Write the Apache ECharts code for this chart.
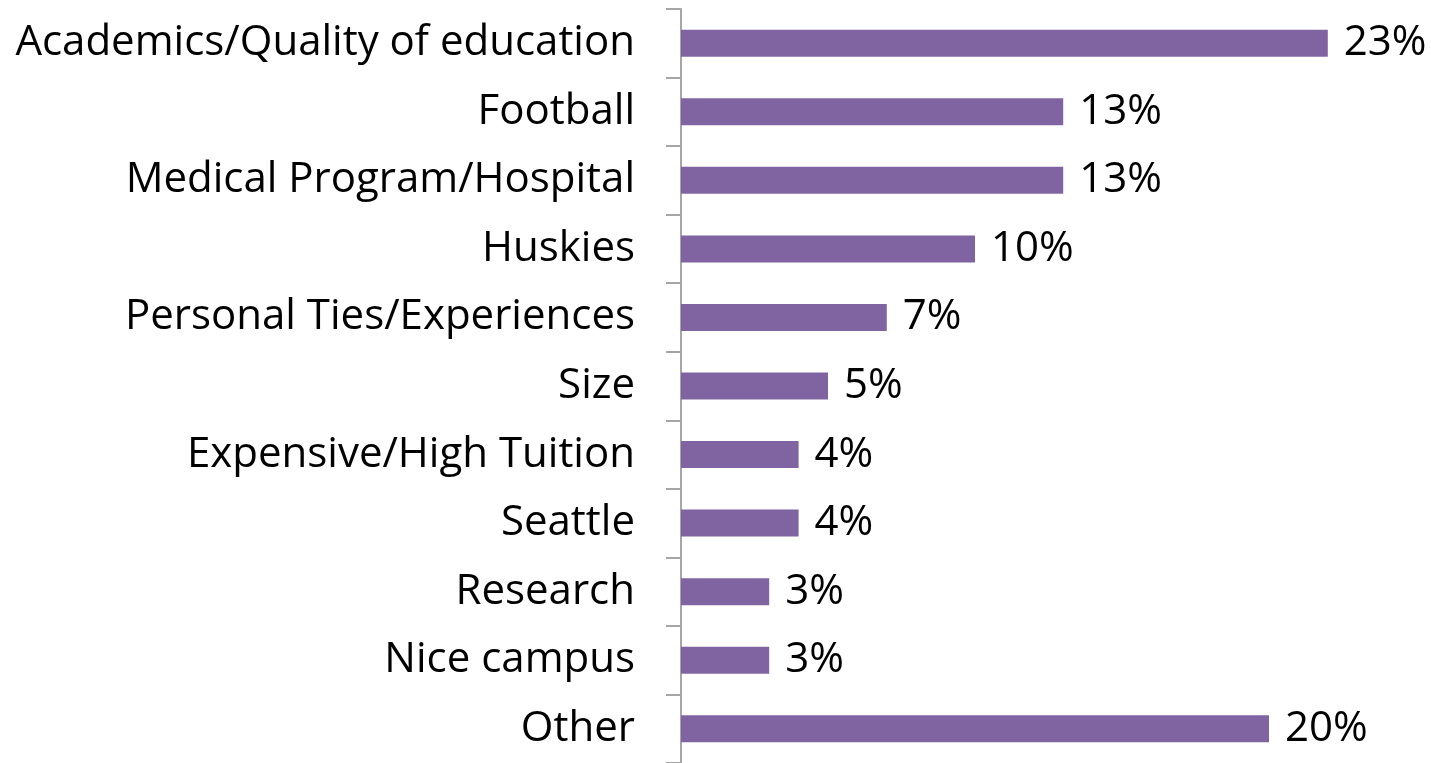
<!DOCTYPE html>
<html>
<head>
<meta charset="utf-8">
<script src="https://cdn.jsdelivr.net/npm/echarts@6/dist/echarts.min.js"></script>
<style>
  html, body { margin: 0; padding: 0; background: #fff; }
  #chart { width: 1431px; height: 763px; }
</style>
</head>
<body>
<div id="chart"></div>
<script>
// categories, top to bottom
const categories = [
  'Academics/Quality of education',
  'Football',
  'Medical Program/Hospital',
  'Huskies',
  'Personal Ties/Experiences',
  'Size',
  'Expensive/High Tuition',
  'Seattle',
  'Research',
  'Nice campus',
  'Other'
];
// bar lengths (%)
const shares = [22, 13, 13, 10, 7, 5, 4, 4, 3, 3, 20];
// printed value labels
const shareLabels = ['23%', '13%', '13%', '10%', '7%', '5%', '4%', '4%', '3%', '3%', '20%'];

const chart = echarts.init(document.getElementById('chart'));

chart.setOption({
  animation: false,
  grid: { left: 681, top: 9, width: 735, height: 757 },
  xAxis: {
    type: 'value',
    min: 0,
    max: 25,
    show: false
  },
  yAxis: {
    type: 'category',
    inverse: true,
    data: categories,
    axisLine: { show: true, lineStyle: { color: '#a6a6a6', width: 2 } },
    axisTick: { show: true, length: 15, lineStyle: { color: '#a6a6a6', width: 2 } },
    axisLabel: {
      margin: 46,
      color: '#000',
      fontFamily: 'Open Sans',
      fontSize: 42
    }
  },
  series: [{
    type: 'bar',
    data: shares,
    barWidth: 27,
    itemStyle: { color: '#8064A2' },
    label: {
      show: true,
      position: 'right',
      distance: 16,
      color: '#000',
      fontFamily: 'Open Sans',
      fontSize: 42,
      formatter: p => shareLabels[p.dataIndex]
    }
  }]
});
</script>
</body>
</html>
